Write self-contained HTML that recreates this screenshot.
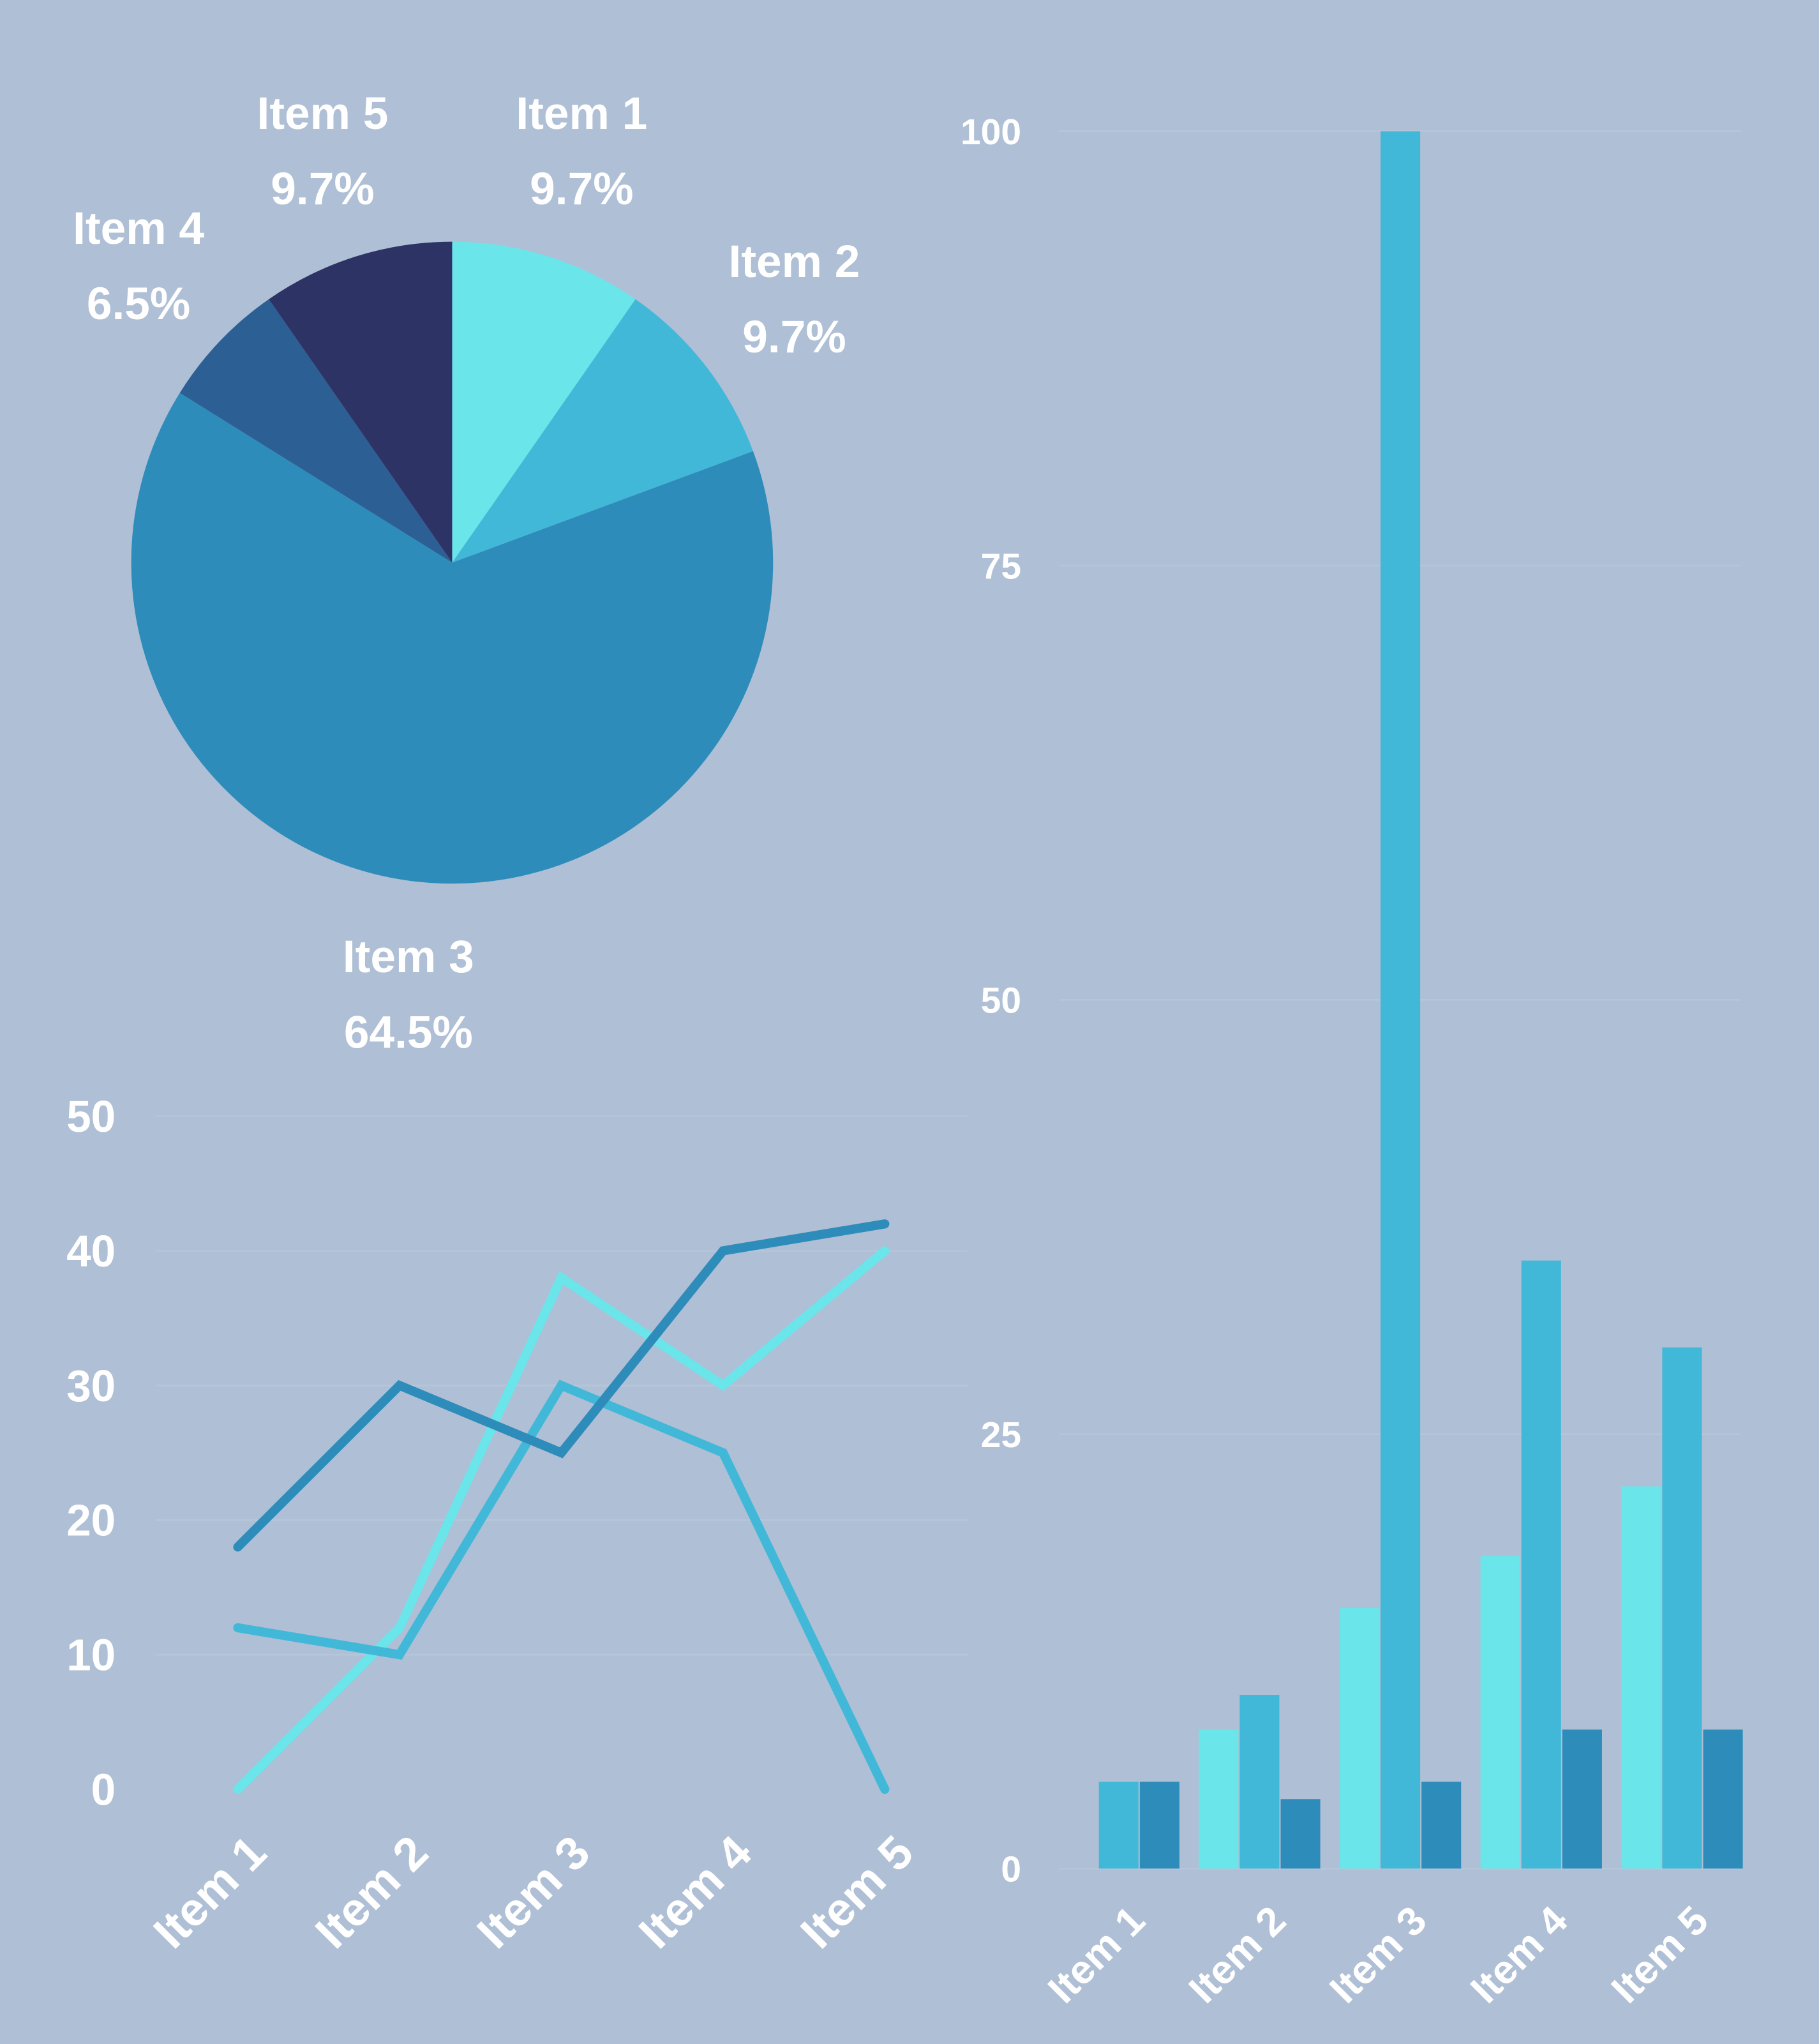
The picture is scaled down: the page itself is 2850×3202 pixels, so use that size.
<!DOCTYPE html>
<html><head><meta charset="utf-8"><style>
html,body{margin:0;padding:0;background:#afbfd5;}
svg{display:block;}
text{font-family:"Liberation Sans",sans-serif;fill:#fff;font-weight:bold;}
</style></head><body>
<svg id="chart" width="2850" height="3202" viewBox="0 0 1400 1573" preserveAspectRatio="none" xmlns="http://www.w3.org/2000/svg">
<rect x="0" y="0" width="1400" height="1573" fill="#afbfd5"/>
<g id="pie"></g>
<g id="line"></g>
<g id="bar"></g>
</svg>
<script>
const pieLabels = ["Item 1","Item 2","Item 3","Item 4","Item 5"];
const pieValues = [3,3,20,2,3];
const pieColors = ["#6ae5ea","#42b8d8","#2e8cba","#2c5f94","#2e3366"];

const lineCategories = ["Item 1","Item 2","Item 3","Item 4","Item 5"];
const lineSeriesA = [18,30,25,40,42];
const lineSeriesB = [0,12,38,30,40];
const lineSeriesC = [12,10,30,25,0];
const lineTicks = [0,10,20,30,40,50];

const barCategories = ["Item 1","Item 2","Item 3","Item 4","Item 5"];
const barSeries1 = [0,8,15,18,22];
const barSeries2 = [5,10,100,35,30];
const barSeries3 = [5,4,5,8,8];
const barTicks = [0,25,50,75,100];

const NS = "http://www.w3.org/2000/svg";
function mk(tag, attrs, parent){const e=document.createElementNS(NS,tag);for(const k in attrs)e.setAttribute(k,attrs[k]);parent.appendChild(e);return e;}

// PIE
const pie=document.getElementById('pie');
const cx=348, cy=433, r=247, lr=333;
const total=pieValues.reduce((a,b)=>a+b,0);
let acc=0;
pieValues.forEach((v,i)=>{
  const a0=acc/total*2*Math.PI; acc+=v; const a1=acc/total*2*Math.PI;
  const x0=cx+r*Math.sin(a0), y0=cy-r*Math.cos(a0), x1=cx+r*Math.sin(a1), y1=cy-r*Math.cos(a1);
  const large=(a1-a0)>Math.PI?1:0;
  const p=mk('path',{d:`M${cx},${cy} L${x0},${y0} A${r},${r} 0 ${large} 1 ${x1},${y1} Z`,fill:pieColors[i]},pie);
  
  
  const am=(a0+a1)/2, lx=cx+lr*Math.sin(am), ly=cy-lr*Math.cos(am);
  const t=mk('text',{x:lx,y:ly-16,'text-anchor':'middle','font-size':35},pie);
  t.textContent=pieLabels[i];
  
  
  const t2=mk('text',{x:lx,y:ly+42,'text-anchor':'middle','font-size':35},pie);
  t2.textContent=(v/total*100).toFixed(1)+'%';
  
  
});

// LINE
const line=document.getElementById('line');
const ly0=1377, lyPer=(1377-859)/50;
const lY=v=>ly0-v*lyPer;
const lX=i=>183+i*124.5;
lineTicks.forEach(v=>{
  if(v>0){const g=mk('line',{x1:120,x2:745,y1:lY(v),y2:lY(v),stroke:'#b6c6da','stroke-width':1.2},line);
  
  }
  const t=mk('text',{x:89,y:lY(v)+12,'text-anchor':'end','font-size':34},line);
  t.textContent=v;
  
  
});
[[lineSeriesB,'#6ae5ea'],[lineSeriesC,'#42b8d8'],[lineSeriesA,'#2e8cba']].forEach((s,k)=>{
  const pl=mk('polyline',{points:s[0].map((v,i)=>lX(i)+','+lY(v)).join(' '),fill:'none',stroke:s[1],'stroke-width':7,'stroke-linecap':'round','stroke-linejoin':'miter'},line);
  
  
});
lineCategories.forEach((c,i)=>{
  const x=lX(i)+24, y=1428;
  const t=mk('text',{x:x,y:y,'text-anchor':'end','font-size':36,transform:`rotate(-45 ${x} ${y})`},line);
  t.textContent=c;
  
  
});

// BAR
const bar=document.getElementById('bar');
const by0=1438, byPer=(1438-101)/100;
const bY=v=>by0-v*byPer;
const gC=i=>861+i*108.4;
const bw=31.5;
barTicks.forEach(v=>{
  const g=mk('line',{x1:815,x2:1340,y1:bY(v),y2:bY(v),stroke:'#b6c6da','stroke-width':1.2},bar);
  
  
  const t=mk('text',{x:786,y:bY(v)+10,'text-anchor':'end','font-size':28},bar);
  t.textContent=v;
  
  
});
[[barSeries1,'#6ae5ea'],[barSeries2,'#42b8d8'],[barSeries3,'#2e8cba']].forEach((s,k)=>{
  s[0].forEach((v,i)=>{
    const x=gC(i)-1.5*bw+k*bw;
    const b=mk('rect',{x:x+0.5,y:bY(v),width:bw-1,height:by0-bY(v),fill:s[1]},bar);
    
    
  });
});
barCategories.forEach((c,i)=>{
  const x=gC(i)+22, y=1480;
  const t=mk('text',{x:x,y:y,'text-anchor':'end','font-size':31,transform:`rotate(-45 ${x} ${y})`},bar);
  t.textContent=c;
  
  
});
</script>
</body></html>
